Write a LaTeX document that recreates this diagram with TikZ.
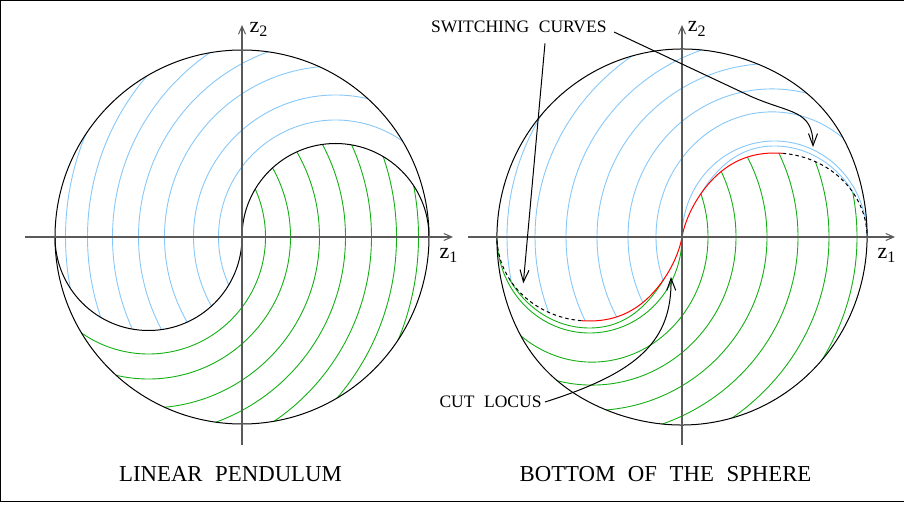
\documentclass[tikz,border=0pt]{standalone}
\usepackage{fontspec}
\setmainfont{Liberation Serif}
\usetikzlibrary{arrows.meta}
\definecolor{trajblue}{RGB}{135,200,250}
\definecolor{trajgreen}{RGB}{20,175,20}
\definecolor{axgray}{RGB}{90,90,90}
\newcommand\wgap{\hspace{0.55em}}
\newcommand\zlab[1]{{\fontsize{22}{24}\selectfont z}\raisebox{-4.5pt}{\fontsize{16}{18}\selectfont #1}}
\tikzset{
  bluetraj/.style={draw=trajblue, line width=0.9pt},
  greentraj/.style={draw=trajgreen, line width=0.9pt},
  bound/.style={draw=black, line width=1pt},
  cutline/.style={draw=red, line width=1pt},
  switchline/.style={draw=black, line width=1pt, dash pattern=on 3.5pt off 3pt},
  axisline/.style={draw=axgray, line width=1.4pt, -{Straight Barb[length=8pt,width=7pt,line width=1pt]}},
  pointer/.style={draw=black, line width=1pt, -{Straight Barb[length=12pt,width=9pt,line width=1pt]}},
  lbl/.style={inner sep=0pt, font=\fontsize{17.5}{20}\selectfont},
  ttl/.style={inner sep=0pt, font=\fontsize{22.8}{26}\selectfont},
  axlbl/.style={inner sep=0pt},
  declare function={
    rb(\q)=185+3*(sin(\q))^2+4*((1+cos(2*(\q-42)))/2)^6;
    sx(\q)=92.5*(1-cos(\q))+15*sin(\q)*(max(cos(\q),0))^2;
    sy(\q)=84*sin(\q);
  },
}
\begin{document}
\begin{tikzpicture}[x=1pt,y=1pt]
\useasboundingbox (0,0) rectangle (904,504);
% frame
\draw[line width=1.3pt] (0,503.4) -- (904,503.4);
\draw[line width=1.3pt] (0,2.3) -- (904,2.3);
\draw[line width=1.3pt] (0.6,2.3) -- (0.6,503.4);

% ================= LEFT: linear pendulum =================
\begin{scope}[shift={(242,267)}]
  \begin{scope}
    \clip (187,0) arc[start angle=0,end angle=180,radius=187]
          arc[start angle=180,end angle=360,radius=93.5]
          arc[start angle=180,end angle=0,radius=93.5] -- cycle;
    \foreach \r in {117,142,171,197,223,248,270}
      \draw[bluetraj] (93.5,0) circle[radius=\r];
  \end{scope}
  \begin{scope}
    \clip (-187,0) arc[start angle=180,end angle=360,radius=187]
          arc[start angle=0,end angle=180,radius=93.5]
          arc[start angle=0,end angle=-180,radius=93.5] -- cycle;
    \foreach \r in {117,142,171,197,223,248,270}
      \draw[greentraj] (-93.5,0) circle[radius=\r];
  \end{scope}
  \draw[bound] (0,0) circle[radius=187];
  \draw[bound] (0,0) arc[start angle=180,end angle=0,radius=93.5];
  \draw[bound] (0,0) arc[start angle=0,end angle=-180,radius=93.5];
  \coordinate (L1s) at (-217,0);
  \coordinate (L1e) at (211,0);
  \coordinate (L2s) at (0,-208);
  \coordinate (L2e) at (0,212);
  \draw[axisline] (L1s) -- (L1e);
  \draw[axisline] (L2s) -- (L2e);
\end{scope}
\node[axlbl, anchor=base west] (lz2) at (249.5,471.7) {\zlab{2}};
\node[axlbl, anchor=base west] (lz1) at (439.3,245.7) {\zlab{1}};
\node[ttl, anchor=base] (t1) at (230.5,23) {LINEAR\wgap PENDULUM};

% ================= RIGHT: bottom of the sphere =================
\begin{scope}[shift={(682,267)}]
  % blue region
  \begin{scope}
    \clip plot[domain=0:180,samples=91] ({rb(\x)*cos(\x)},{rb(\x)*sin(\x)})
      -- plot[domain=180:0,samples=91] ({-sx(\x)},{-sy(\x)})
      -- plot[domain=0:180,samples=91] ({sx(\x)},{sy(\x)}) -- cycle;
    \foreach \c in {26,54,85,116,147,175} {
      \pgfmathsetmacro\aa{90+\c}
      \pgfmathsetmacro\bb{0.82*\aa+30}
      \draw[bluetraj] (90,0) ellipse[x radius=\aa, y radius=\bb];
    }
  \end{scope}
  % green region
  \begin{scope}
    \clip plot[domain=180:360,samples=91] ({rb(\x)*cos(\x)},{rb(\x)*sin(\x)})
      -- plot[domain=180:0,samples=91] ({sx(\x)},{sy(\x)})
      -- plot[domain=0:180,samples=91] ({-sx(\x)},{-sy(\x)}) -- cycle;
    \foreach \c in {26,54,85,116,147,175} {
      \pgfmathsetmacro\aa{90+\c}
      \pgfmathsetmacro\bb{0.82*\aa+30}
      \draw[greentraj] (-90,0) ellipse[x radius=\aa, y radius=\bb];
    }
  \end{scope}
  % trajectories hugging the switching curves
  \draw[bluetraj] plot[domain=0:180,samples=91] ({92.5*(1-cos(\x))},{96*sin(\x)});
  \draw[bluetraj] plot[domain=30:150,samples=61] ({sx(\x)},{84*sin(\x)+7*sin(1.5*(\x-30))});
  \draw[greentraj] plot[domain=0:180,samples=91] ({-92.5*(1-cos(\x))},{-96*sin(\x)});
  \draw[greentraj] plot[domain=30:150,samples=61] ({-sx(\x)},{-84*sin(\x)-7*sin(1.5*(\x-30))});
  % cut locus (red) and switching curves (dashed)
  \draw[cutline] plot[domain=0:95,samples=48] ({sx(\x)},{sy(\x)});
  \draw[cutline] plot[domain=0:95,samples=48] ({-sx(\x)},{-sy(\x)});
  \draw[switchline] plot[domain=95:180,samples=43] ({sx(\x)},{sy(\x)});
  \draw[switchline] plot[domain=95:180,samples=43] ({-sx(\x)},{-sy(\x)});
  % outer boundary
  \draw[bound] plot[domain=0:360,samples=181] ({rb(\x)*cos(\x)},{rb(\x)*sin(\x)}) -- cycle;
  \coordinate (R1s) at (-214,0);
  \coordinate (R1e) at (213,0);
  \coordinate (R2s) at (0,-208);
  \coordinate (R2e) at (0,212);
  \draw[axisline] (R1s) -- (R1e);
  \draw[axisline] (R2s) -- (R2e);
\end{scope}
\node[axlbl, anchor=base west] (rz2) at (687.7,472) {\zlab{2}};
\node[axlbl, anchor=base west] (rz1) at (877.3,245.7) {\zlab{1}};
\node[ttl, anchor=base] (t2) at (665.5,23) {BOTTOM\wgap OF\wgap THE\wgap SPHERE};

% labels with pointers
\node[lbl, anchor=base east] (sw) at (606.7,471.7) {SWITCHING\wgap CURVES};
\node[lbl, anchor=base east] (cl) at (541.7,96.7) {CUT\wgap LOCUS};
\coordinate (swA) at (614,472);
\coordinate (swAbend) at (750,408);
\coordinate (swAtip) at (813,357);
\coordinate (swB) at (545,460.7);
\coordinate (swBtip) at (523.3,220.7);
\coordinate (clA) at (545,102);
\coordinate (cltip) at (671,227);
\draw[pointer] (swA) -- (swAbend) .. controls (790,390) and (813,395) .. (swAtip);
\draw[pointer] (swB) -- (swBtip);
\draw[pointer] (clA) .. controls (640,132) and (672,164) .. (cltip);
\end{tikzpicture}
\end{document}
